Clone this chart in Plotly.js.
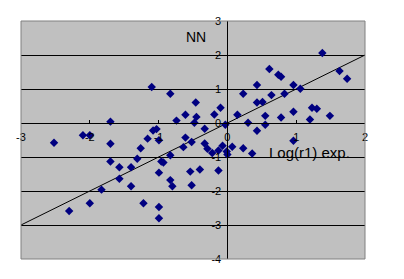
<!DOCTYPE html>
<html>
<head>
<meta charset="utf-8">
<script src="https://cdn.plot.ly/plotly-3.0.1.min.js"></script>
<style>html,body{margin:0;padding:0;background:#fff;}#chart{width:404px;height:279px;}</style>
</head>
<body>
<div id="chart"></div>
<script>
// Log(r1) exp. (x) vs NN prediction (y)
const expValues = [
  -2.52, -2.10, -2.00, -1.70, -1.70, -1.70, -1.57, -1.57, -1.40, -1.40,
  -1.31, -1.26, -1.16, -1.08, -1.03, -1.10, -0.995, -0.96, -0.93, -0.995,
  -0.995, -0.995, -1.22, -1.83, -2.00, -2.30, -0.83, -0.83, -0.83, -0.80,
  -0.74, -0.64, -0.61, -0.61, -0.54, -0.52, -0.52, -0.48, -0.46, -0.45,
  -0.40, -0.33, -0.33, -0.29, -0.22, -0.19, -0.13, -0.13, -0.10, -0.07,
  -0.03, -0.01, 0.00, 0.07, 0.145, 0.23, 0.23, 0.30, 0.36, 0.43,
  0.43, 0.43, 0.51, 0.55, 0.55, 0.61, 0.64, 0.74, 0.78, 0.78,
  0.83, 0.96, 0.96, 0.96, 1.06, 1.20, 1.23, 1.30, 1.38, 1.49,
  1.63, 1.74
];
const nnValues = [
  -0.58, -0.36, -0.36, 0.04, -0.61, -1.13, -1.30, -1.64, -1.30, -1.86,
  -1.05, -0.74, -0.46, -0.22, -0.18, 1.06, -0.51, -1.13, -1.16, -1.46,
  -2.47, -2.80, -2.36, -1.96, -2.36, -2.59, 0.86, -0.95, -1.68, -1.86,
  0.07, -0.71, 0.24, -0.43, -1.43, -1.83, -0.56, 0.01, 0.60, 0.18,
  -1.37, -0.17, -0.60, -0.76, -0.88, 0.25, -0.81, -1.40, 0.45, -0.67,
  -0.05, -0.84, -0.93, -0.70, 0.24, 0.86, -0.74, 0.01, -0.90, 1.12,
  0.60, -0.23, 0.62, 0.21, -0.05, 1.59, 0.82, 1.42, 1.36, 0.16,
  0.86, 1.12, 0.33, -0.52, 1.01, 0.10, 0.45, 0.42, 2.06, 0.21,
  1.53, 1.30
];
// reference line y = x
const refX = [-3, 2];
const refY = [-3, 2];
const xTicks = [-3, -2, -1, 0, 1, 2];
const yTicks = [-4, -3, -2, -1, 0, 1, 2, 3];
const xTitle = 'Log(r1) exp.';
const yTitle = 'NN';

const traces = [
  {x: refX, y: refY, mode: 'lines', type: 'scatter',
   line: {color: '#000000', width: 1}, hoverinfo: 'skip'},
  {x: expValues, y: nnValues, mode: 'markers', type: 'scatter',
   marker: {symbol: 'diamond', size: 6.5, color: '#000080', line: {width: 0}}}
];

const layout = {
  width: 404, height: 279,
  margin: {l: 20.5, r: 38.5, t: 20.5, b: 20},
  paper_bgcolor: '#ffffff',
  plot_bgcolor: '#c0c0c0',
  showlegend: false,
  font: {family: 'Liberation Sans, Arial, sans-serif', color: '#000000'},
  xaxis: {
    range: [-3, 2], tickvals: xTicks, ticktext: xTicks.map(String),
    anchor: 'free', position: 4/7,
    showline: true, linecolor: '#000000', linewidth: 1,
    ticks: 'inside', ticklen: 3, tickcolor: '#000000', tickwidth: 1,
    showgrid: false, zeroline: false,
    tickfont: {size: 11, color: '#000000'},
    ticklabelstandoff: 4
  },
  yaxis: {
    range: [-4, 3], tickvals: yTicks, ticktext: yTicks.map(String),
    anchor: 'free', position: 0.6,
    showline: true, linecolor: '#000000', linewidth: 1,
    ticks: 'inside', ticklen: 3, tickcolor: '#000000', tickwidth: 1,
    showgrid: true, gridcolor: '#000000', gridwidth: 1,
    zeroline: false,
    tickfont: {size: 11, color: '#000000'},
    ticklabelstandoff: 4
  },
  shapes: [
    {type: 'rect', xref: 'paper', yref: 'paper', x0: 0, y0: 0, x1: 1, y1: 1,
     line: {color: '#808080', width: 1}, layer: 'above'}
  ],
  annotations: [
    {text: yTitle, x: -0.456, y: 2.54, xref: 'x', yref: 'y', showarrow: false,
     xanchor: 'center', yanchor: 'middle', font: {size: 14, color: '#000000'}},
    {text: xTitle, x: 1.196, y: -0.86, xref: 'x', yref: 'y', showarrow: false,
     xanchor: 'center', yanchor: 'middle', font: {size: 15, color: '#000000'}}
  ]
};

Plotly.newPlot('chart', traces, layout, {displayModeBar: false, staticPlot: true});
</script>
</body>
</html>
